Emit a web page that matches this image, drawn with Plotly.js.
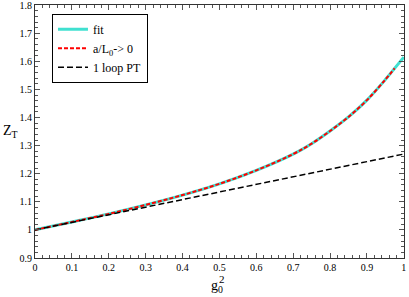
<!DOCTYPE html>
<html><head><meta charset="utf-8">
<script src="https://cdn.plot.ly/plotly-3.0.1.min.js"></script>
<style>html,body{margin:0;padding:0;background:#fff}#c{width:409px;height:297px}</style>
</head><body><div id="c"></div>
<script>
var gFit = [0, 0.1, 0.2, 0.3, 0.4, 0.5, 0.6, 0.7, 0.75, 0.8, 0.85, 0.9, 0.95, 0.975, 1.0];
var zFit = [1.000, 1.028, 1.057, 1.089, 1.124, 1.164, 1.212, 1.270, 1.307, 1.352, 1.402, 1.462, 1.535, 1.575, 1.615];
var gExt = [0, 0.1, 0.2, 0.3, 0.4, 0.5, 0.6, 0.7, 0.75, 0.8, 0.85, 0.9, 0.95, 0.975];
var zExt = [1.000, 1.028, 1.057, 1.089, 1.124, 1.164, 1.212, 1.270, 1.307, 1.352, 1.402, 1.462, 1.535, 1.575];
var gPT = [0, 1];
var zPT = [1.0, 1.27];
var xTicks = [0, 0.1, 0.2, 0.3, 0.4, 0.5, 0.6, 0.7, 0.8, 0.9, 1];
var yTicks = [0.9, 1, 1.1, 1.2, 1.3, 1.4, 1.5, 1.6, 1.7, 1.8];

var font = "Liberation Serif";
var traces = [
  {x: gFit, y: zFit, mode: 'lines', name: 'fit', line: {color: '#40e0d0', width: 3, shape: 'spline'}},
  {x: gExt, y: zExt, mode: 'lines', name: 'a/L<sub>0</sub>-> 0', line: {color: '#ff0000', width: 2, dash: '4px,2px', shape: 'spline'}},
  {x: gPT, y: zPT, mode: 'lines', name: '1 loop PT', line: {color: '#000000', width: 1.5, dash: '6px,3px'}}
];
var axisCommon = {
  showgrid: false, zeroline: false, showline: true, linecolor: '#333', linewidth: 1,
  mirror: 'allticks', ticks: 'inside', ticklen: 5, tickcolor: '#555', tickwidth: 1,
  ticklabeloverflow: 'allow',
  tickfont: {family: font, size: 10, color: '#000'}
};
var layout = {
  width: 409, height: 297,
  margin: {l: 35, r: 5, t: 5, b: 39},
  paper_bgcolor: '#fff', plot_bgcolor: '#fff',
  font: {family: font},
  showlegend: true,
  legend: {x: 0.046, y: 0.965, xanchor: 'left', yanchor: 'top', bgcolor: '#fff',
    bordercolor: '#000', borderwidth: 1, font: {family: font, size: 12, color: '#000'},
    tracegroupgap: 0, itemwidth: 30},
  xaxis: Object.assign({}, axisCommon, {range: [0, 1.0005], tickvals: xTicks, ticktext: xTicks.map(String),
    minor: {dtick: 0.02, ticks: 'inside', ticklen: 3, tickcolor: '#555'}}),
  yaxis: Object.assign({}, axisCommon, {range: [0.9, 1.8005], tickvals: yTicks, ticktext: yTicks.map(String),
    minor: {dtick: 0.02, ticks: 'inside', ticklen: 3, tickcolor: '#555'}}),
  annotations: [
    {xref: 'paper', yref: 'paper', x: -0.092, y: 0.5, xanchor: 'left', yanchor: 'middle', showarrow: false,
     text: 'Z<sub>T</sub>', font: {family: font, size: 14, color: '#000'}},
    {xref: 'paper', yref: 'paper', x: 0.4715, y: -0.155, xanchor: 'left', yanchor: 'bottom', showarrow: false,
     text: 'g<sub>0</sub>', font: {family: font, size: 14, color: '#000'}},
    {xref: 'paper', yref: 'paper', x: 0.507, y: -0.082, xanchor: 'center', yanchor: 'middle', showarrow: false,
     text: '2', font: {family: font, size: 11, color: '#000'}}
  ]
};
Plotly.newPlot('c', traces, layout, {staticPlot: true, displayModeBar: false});
</script></body></html>
